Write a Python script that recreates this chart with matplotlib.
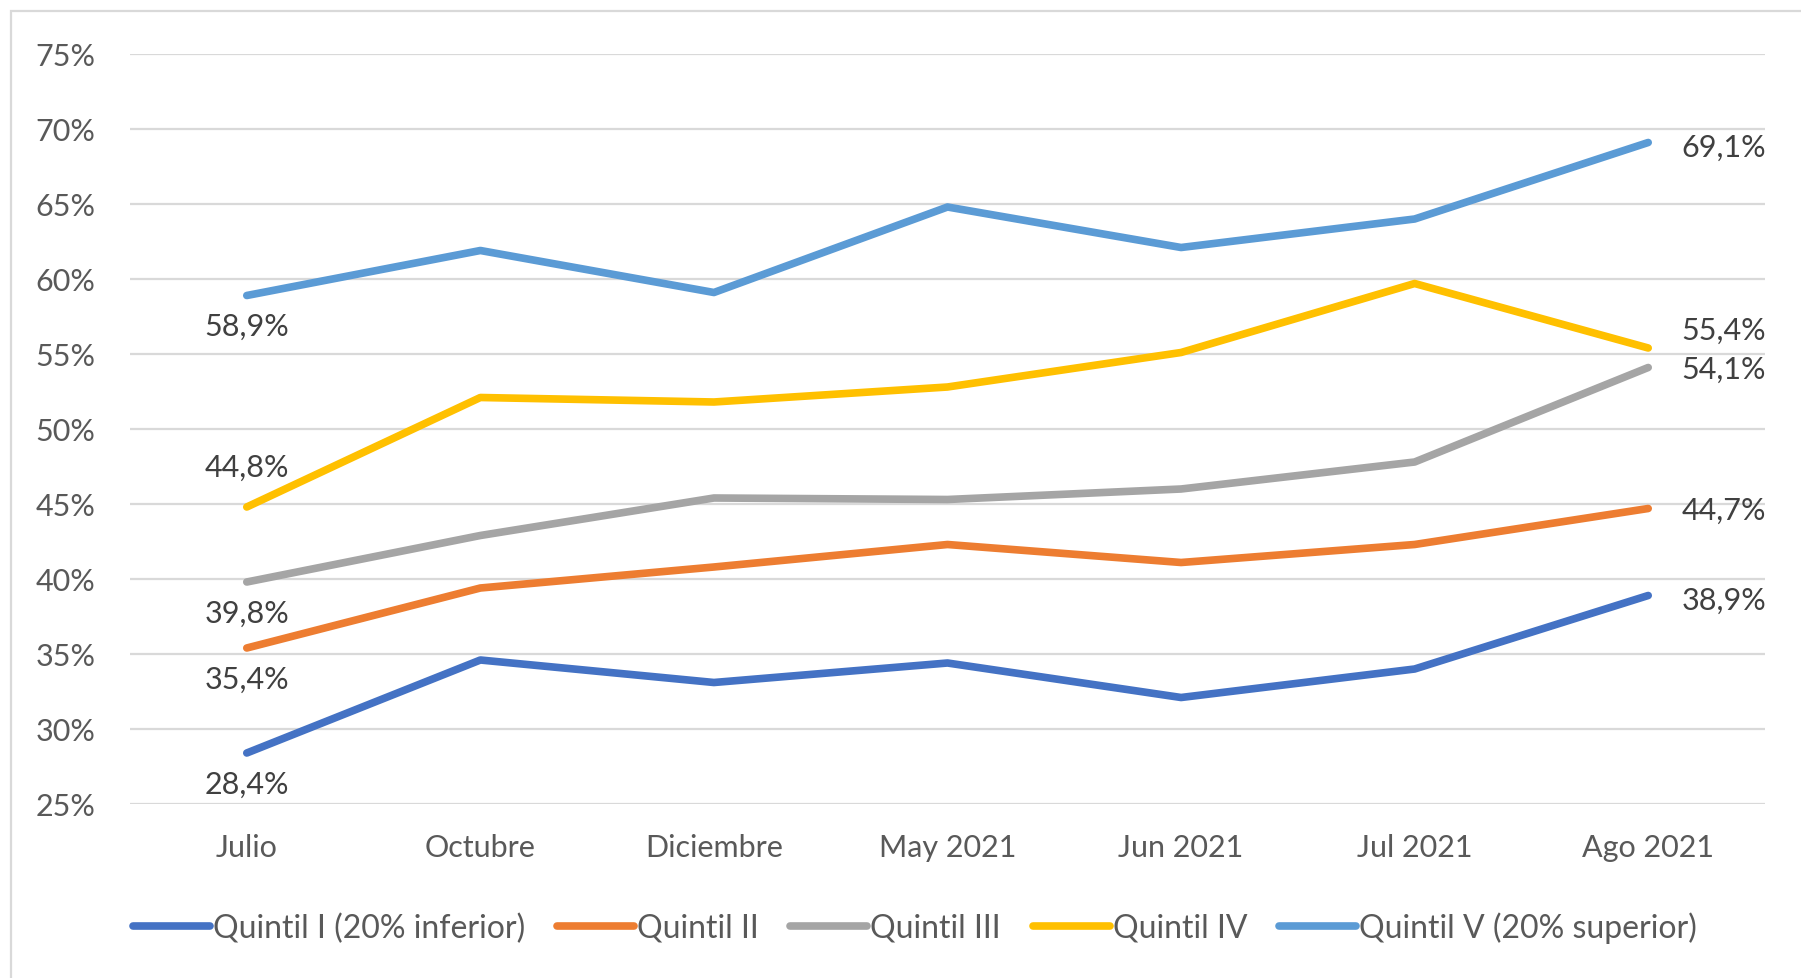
import numpy as np
import matplotlib
matplotlib.use('Agg')
from matplotlib import pyplot as plt
from matplotlib.patches import Rectangle

meses = ['Julio', 'Octubre', 'Diciembre', 'May 2021', 'Jun 2021', 'Jul 2021', 'Ago 2021']

q1 = [28.4, 34.6, 33.1, 34.4, 32.1, 34.0, 38.9]
q2 = [35.4, 39.4, 40.8, 42.3, 41.1, 42.3, 44.7]
q3 = [39.8, 42.9, 45.4, 45.3, 46.0, 47.8, 54.1]
q4 = [44.8, 52.1, 51.8, 52.8, 55.1, 59.7, 55.4]
q5 = [58.9, 61.9, 59.1, 64.8, 62.1, 64.0, 69.1]

nombres = ['Quintil I (20% inferior)', 'Quintil II', 'Quintil III', 'Quintil IV',
           'Quintil V (20% superior)']
colores = ['#4472C4', '#ED7D31', '#A5A5A5', '#FFC000', '#5B9BD5']

plt.rcParams['font.family'] = ['Lato', 'DejaVu Sans']
fs = 22

fig = plt.figure(figsize=(18.01, 9.79), dpi=100)
ax = fig.add_axes([130/1801, 1-805/979, (1765-130)/1801, (805-55)/979])

x = np.arange(len(meses))
series = [q1, q2, q3, q4, q5]
for s, nom, c in zip(series, nombres, colores):
    ax.plot(x, s, color=c, lw=5.5, solid_capstyle='round', solid_joinstyle='round',
            label=nom, zorder=3)

# etiquetas de datos
lab_col = '#404040'
ini = [(q1, -22), (q2, -22), (q3, -22), (q4, 29), (q5, -22)]
for s, dy in ini:
    ax.annotate(f'{s[0]:.1f}%'.replace('.', ','), (x[0], s[0]), xytext=(0, dy),
                textcoords='offset points', ha='center', va='center',
                fontsize=fs, color=lab_col)
fin = [(q1, -3), (q2, -1), (q3, -1), (q4, 13), (q5, -3)]
for s, dy in fin:
    ax.annotate(f'{s[-1]:.1f}%'.replace('.', ','), (x[-1], s[-1]), xytext=(24, dy),
                textcoords='offset points', ha='left', va='center',
                fontsize=fs, color=lab_col)

ax.set_xlim(-0.5, 6.5)
ax.set_ylim(25, 75)
ax.set_yticks(np.arange(25, 76, 5))
ax.set_yticklabels([f'{v}%' for v in range(25, 76, 5)])
ax.set_xticks(x)
ax.set_xticklabels(meses)
ax.tick_params(axis='both', length=0, labelsize=fs, labelcolor='#595959')
ax.tick_params(axis='y', pad=25)
ax.tick_params(axis='x', pad=21)
ax.grid(axis='y', color='#d9d9d9', lw=1.6)
ax.set_axisbelow(True)
for sp in ax.spines.values():
    sp.set_visible(False)

leg = fig.legend(loc='center', bbox_to_anchor=(0.508, 1-928/979), ncol=5,
                 frameon=False, fontsize=23, handlelength=2.4, handletextpad=0.1,
                 columnspacing=1.0, labelcolor='#595959')
for h in leg.get_lines():
    h.set_linewidth(5.5)
    h.set_solid_capstyle('round')

# borde del grafico
fig.patches.append(Rectangle((11/1801, -0.1), 1.2, 1-12/979+0.1,
                             transform=fig.transFigure, fill=False,
                             edgecolor='#d9d9d9', lw=1.6))

fig.savefig('out.png', dpi=100)
